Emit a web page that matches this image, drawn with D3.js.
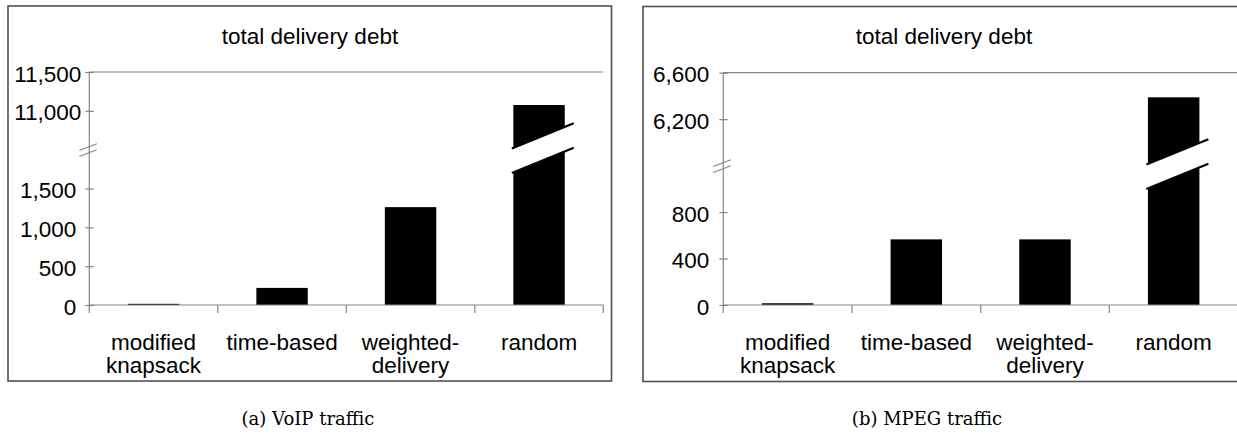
<!DOCTYPE html>
<html>
<head>
<meta charset="utf-8">
<script src="https://cdn.jsdelivr.net/npm/d3@7"></script>
<style>
  html, body { margin: 0; padding: 0; background: #fff; }
  svg { display: block; }
  .sans { font-family: "Liberation Sans", Arial, sans-serif; }
  .serif { font-family: "DejaVu Serif", serif; }
</style>
</head>
<body>
<svg id="chart" width="1237" height="437"></svg>
<script>
// Scheduling policies compared
const categories = ["modified knapsack", "time-based", "weighted-delivery", "random"];
const categoryLines = [["modified", "knapsack"], ["time-based"], ["weighted-", "delivery"], ["random"]];

// Total delivery debt per policy
const voipDebt = [15, 220, 1260, 11075];
const mpegDebt = [15, 565, 565, 6388];

// Axis ticks and the value ranges hidden by the axis break
const voipTicks = [0, 500, 1000, 1500, 11000, 11500];
const mpegTicks = [0, 400, 800, 6200, 6600];
const voipBreak = [2000, 10500];
const mpegBreak = [1200, 5800];
const voipTop = 11500;
const mpegTop = 6600;

const chartTitle = "total delivery debt";
const captions = ["(a) VoIP traffic", "(b) MPEG traffic"];

const panels = [
  {
    values: voipDebt, ticks: voipTicks, brk: voipBreak, top: voipTop, caption: captions[0],
    frame: { x: 8, y: 6, w: 603.5, h: 375 },
    plot: { x0: 89.3, x1: 603.3, y0: 305, yTop: 72 },
    gap: { upper: 8, lower: 13 },
    titleX: 310, captionX: 308
  },
  {
    values: mpegDebt, ticks: mpegTicks, brk: mpegBreak, top: mpegTop, caption: captions[1],
    frame: { x: 643, y: 6.5, w: 603, h: 375 },
    plot: { x0: 723.3, x1: 1238, y0: 305, yTop: 72.7 },
    gap: { upper: 14, lower: 14 },
    titleX: 944, captionX: 927
  }
];

const svg = d3.select("#chart");
const fmt = d3.format(",");
const axisGray = "#858585";
const fontPx = 22.5;

panels.forEach(p => {
  const g = svg.append("g");
  const { x0, x1, y0, yTop } = p.plot;

  // outer frame
  g.append("rect")
    .attr("x", p.frame.x).attr("y", p.frame.y)
    .attr("width", p.frame.w).attr("height", p.frame.h)
    .attr("fill", "none").attr("stroke", "#505050").attr("stroke-width", 1.6);

  // broken y scale: both segments share the same pixels per unit
  const total = p.brk[0] + (p.top - p.brk[1]);
  const yb = y0 - (y0 - yTop) * p.brk[0] / total;
  const y = d3.scaleLinear()
    .domain([0, p.brk[0], p.brk[1], p.top])
    .range([y0, yb, yb, yTop]);

  const xCat = d3.scaleBand().domain(categories).range([x0, x1]).padding(0);
  const xBar = d3.scaleBand().domain(categories).range([x0, x1])
    .paddingInner(0.6).paddingOuter(0.3);

  // top boundary line of the plot
  g.append("line")
    .attr("x1", x0).attr("x2", x1)
    .attr("y1", y(p.top)).attr("y2", y(p.top))
    .attr("stroke", axisGray).attr("stroke-width", 1.2);

  // bars
  g.selectAll("rect.bar").data(p.values).join("rect")
    .attr("class", "bar")
    .attr("x", (d, i) => xBar(categories[i]))
    .attr("width", xBar.bandwidth())
    .attr("y", d => y(d))
    .attr("height", d => y(0) - y(d))
    .attr("fill", "#000");

  // cut through bars that cross the axis break
  const slope = -0.408, half = 12.3;
  p.values.forEach((v, i) => {
    if (v <= p.brk[0]) return;
    const bl = xBar(categories[i]);
    const br = bl + xBar.bandwidth();
    const cx = (bl + br) / 2;
    const upper = x => yb - half + slope * (x - cx);
    const lower = x => yb + half + slope * (x - cx);
    const xl = bl - 1.5, xr = br + 9;
    g.append("polygon")
      .attr("points", [[xl, upper(xl)], [xr, upper(xr)], [xr, lower(xr)], [xl, lower(xl)]]
        .map(q => q.join(",")).join(" "))
      .attr("fill", "#fff");
    [upper, lower].forEach(f => {
      g.append("line")
        .attr("x1", xl).attr("y1", f(xl))
        .attr("x2", xr).attr("y2", f(xr))
        .attr("stroke", "#000").attr("stroke-width", 2.2);
    });
  });

  // y axis
  const yAxis = d3.axisLeft(y).tickValues(p.ticks).tickFormat(fmt)
    .tickSizeInner(4).tickSizeOuter(0).tickPadding(0);
  const ya = g.append("g").attr("transform", `translate(${x0},0)`).call(yAxis);
  ya.select(".domain").remove();
  ya.selectAll(".tick line").attr("x1", 4.5).attr("stroke", axisGray).attr("stroke-width", 1.2);
  ya.selectAll(".tick text")
    .attr("class", "sans")
    .attr("font-size", fontPx)
    .attr("fill", "#000")
    .attr("dy", "0.4em")
    .attr("x", d => -(d > p.brk[0] ? p.gap.upper : p.gap.lower));
  ya.attr("font-family", null);

  g.append("line")
    .attr("x1", x0).attr("x2", x0)
    .attr("y1", yTop).attr("y2", y0 + 8)
    .attr("stroke", axisGray).attr("stroke-width", 1.2);

  // axis break marks
  [-3, 3].forEach(off => {
    g.append("line")
      .attr("x1", x0 - 10).attr("y1", yb + off + 10 * 0.385)
      .attr("x2", x0 + 7.5).attr("y2", yb + off - 7.5 * 0.385)
      .attr("stroke", axisGray).attr("stroke-width", 1.1);
  });

  // x axis with ticks on category boundaries
  const xAxis = d3.axisBottom(xCat).tickSize(0).tickFormat("");
  const xa = g.append("g").attr("transform", `translate(0,${y0})`).call(xAxis);
  xa.select(".domain").attr("stroke", axisGray).attr("stroke-width", 1.2).attr("d", `M${x0},0H${x1}`);
  xa.selectAll(".tick").remove();
  categories.forEach((c, i) => {
    const bx = xCat(c) + xCat.bandwidth();
    g.append("line")
      .attr("x1", bx).attr("x2", bx).attr("y1", y0).attr("y2", y0 + 8)
      .attr("stroke", axisGray).attr("stroke-width", 1.2);
  });

  // category labels
  categories.forEach((c, i) => {
    const t = g.append("text").attr("class", "sans")
      .attr("font-size", fontPx).attr("text-anchor", "middle")
      .attr("x", xCat(c) + xCat.bandwidth() / 2).attr("y", 350);
    categoryLines[i].forEach((line, k) => {
      t.append("tspan").attr("x", xCat(c) + xCat.bandwidth() / 2)
        .attr("dy", k === 0 ? 0 : 23).text(line);
    });
  });

  // title
  g.append("text").attr("class", "sans")
    .attr("font-size", fontPx).attr("text-anchor", "middle")
    .attr("x", p.titleX).attr("y", 44).text(chartTitle);

  // caption
  g.append("text").attr("class", "serif")
    .attr("font-size", 18).attr("text-anchor", "middle")
    .attr("x", p.captionX).attr("y", 425).text(p.caption);
});
</script>
</body>
</html>
